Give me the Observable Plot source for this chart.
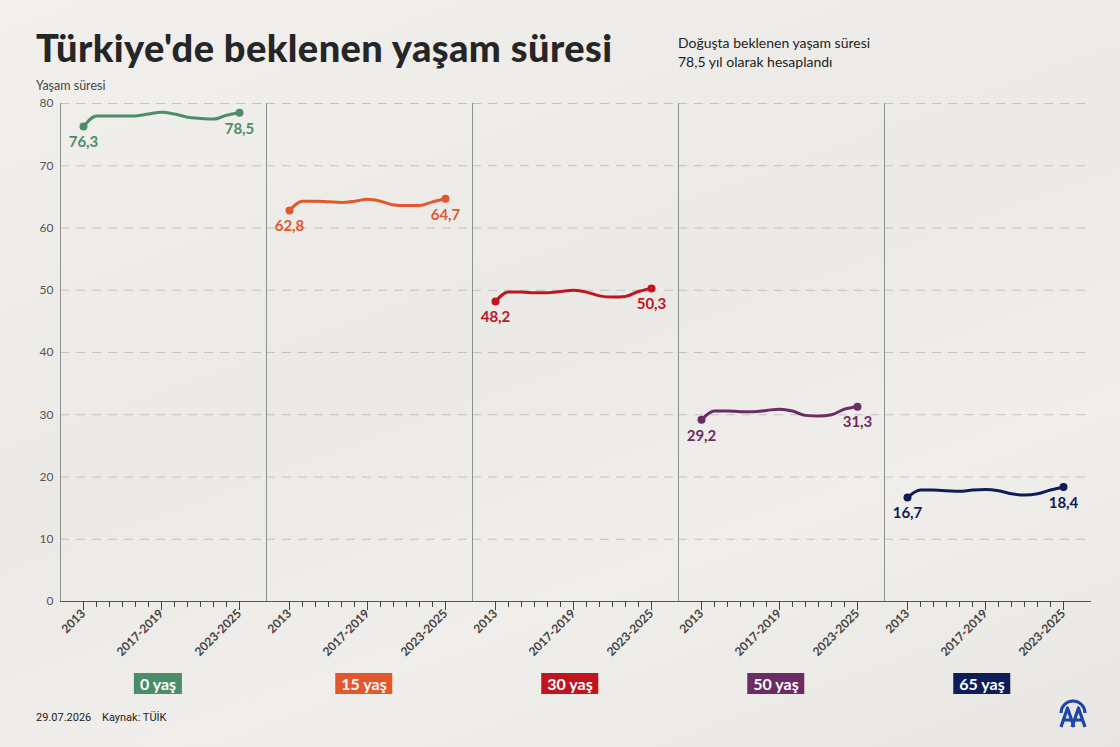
<!DOCTYPE html>
<html>
<head>
<meta charset="utf-8">
<script src="https://cdn.jsdelivr.net/npm/d3@7"></script>
<script src="https://cdn.jsdelivr.net/npm/@observablehq/plot@0.6"></script>
<style>
  html, body { margin: 0; padding: 0; }
  body {
    width: 1120px; height: 747px; position: relative; overflow: hidden;
    background: linear-gradient(160deg, #f2f0ed 0%, #ebe9e5 45%, #f0eeeb 70%, #e8e6e2 100%);
    font-family: Lato, "Noto Sans", sans-serif; color: #222;
  }
  .abs { position: absolute; }
  #title { left: 36px; top: 24px; font-size: 38px; font-weight: 900; color: #262626; letter-spacing: 0.4px; white-space: nowrap; }
  #subtitle { left: 678px; top: 33px; font-size: 14px; line-height: 19px; color: #222; }
  #ylabel { left: 36px; top: 78px; font-size: 12.5px; color: #444; }
  #chart { left: 0; top: 90px; }
  .age { position: absolute; top: 673px; height: 21px; line-height: 21px; padding: 0 6px; color: #fff; font-weight: 700; font-size: 16px; transform: translateX(-50%); white-space: nowrap; }
  #date { left: 36px; top: 711px; font-family: Roboto, sans-serif; font-size: 11px; color: #222; }
  #source { left: 102px; top: 711px; font-family: Roboto, sans-serif; font-size: 11px; color: #222; }
  #logo { left: 1055px; top: 696px; overflow: visible; }
</style>
</head>
<body>
<div id="title" class="abs">Türkiye'de beklenen yaşam süresi</div>
<div id="subtitle" class="abs">Doğuşta beklenen yaşam süresi<br>78,5 yıl olarak hesaplandı</div>
<div id="ylabel" class="abs">Yaşam süresi</div>
<div id="chart" class="abs"></div>
<div id="date" class="abs">29.07.2026</div>
<div id="source" class="abs">Kaynak: TÜİK</div>
<svg id="logo" class="abs" width="36" height="34" viewBox="0 0 36 34">
  <path d="M6 17 A12 12 0 0 1 30 17" fill="none" stroke="#1d44a8" stroke-width="3"/>
  <path d="M6 31 L12.5 12 L19 31 M9 24 L16 24 M17 31 L23.5 12 L30 31 M20 24 L27 24" fill="none" stroke="#1d44a8" stroke-width="3.2" stroke-linejoin="round"/>
</svg>
<script>
// ---- data ----
const periods = ["2013", "2014", "2013-2015", "2014-2016", "2015-2017", "2016-2018", "2017-2019",
                 "2018-2020", "2019-2021", "2020-2022", "2021-2023", "2022-2024", "2023-2025"];
const labeledPeriods = ["2013", "2017-2019", "2023-2025"];
const ages = ["0 yaş", "15 yaş", "30 yaş", "50 yaş", "65 yaş"];
const colors = ["#4d8c68", "#e2582c", "#c0141f", "#6b2b64", "#0e1d58"];
const age0  = [76.3, 78.0, 78.0, 78.0, 78.0, 78.3, 78.6, 78.3, 77.8, 77.6, 77.5, 78.1, 78.5];
const age15 = [62.8, 64.3, 64.3, 64.2, 64.1, 64.3, 64.6, 64.3, 63.7, 63.6, 63.6, 64.2, 64.7];
const age30 = [48.2, 49.7, 49.7, 49.6, 49.6, 49.8, 50.0, 49.7, 49.1, 48.9, 49.0, 49.8, 50.3];
const age50 = [29.2, 30.6, 30.6, 30.5, 30.5, 30.7, 30.9, 30.6, 29.9, 29.8, 30.0, 30.9, 31.3];
const age65 = [16.7, 17.9, 17.9, 17.8, 17.7, 17.9, 18.0, 17.8, 17.3, 17.1, 17.3, 17.9, 18.4];
const yTicks = [0, 10, 20, 30, 40, 50, 60, 70, 80];

const series = [age0, age15, age30, age50, age65];
const rows = ages.flatMap((a, i) => series[i].map((v, j) => ({age: a, period: periods[j], value: v})));
const ends = rows.filter(d => d.period === periods[0] || d.period === periods[periods.length - 1]);
const fmt = v => v.toFixed(1).replace(".", ",");

const plot = Plot.plot({
  width: 1120,
  height: 580,
  marginLeft: 58,
  marginRight: 28,
  marginTop: 13,
  marginBottom: 69,
  style: {background: "transparent", fontFamily: "Lato, sans-serif", overflow: "visible"},
  fx: {domain: ages, padding: 0, axis: null},
  x: {type: "point", domain: periods, padding: 0, insetLeft: 19, insetRight: 23},
  y: {domain: [0, 80]},
  color: {domain: ages, range: colors},
  marks: [
    Plot.ruleY(yTicks.filter(t => t > 0), {y: d => d, stroke: "#c4c1bc", strokeDasharray: "9,7", strokeWidth: 1}),
    Plot.frame({anchor: "left", stroke: "#8f8f8f", strokeWidth: 1}),
    Plot.frame({anchor: "bottom", stroke: "#555", strokeWidth: 1}),
    Plot.axisY({ticks: yTicks, tickSize: 0, tickPadding: 7, fontSize: 12, color: "#555", label: null}),
    Plot.axisX({tickSize: 6, tickRotate: -45, tickPadding: 4, fontSize: 12, fontWeight: 700, color: "#444",
                tickFormat: d => labeledPeriods.includes(d) ? d : "", label: null}),
    Plot.axisX({ticks: labeledPeriods, tickSize: 9, tickFormat: () => "", color: "#444", label: null}),
    Plot.line(rows, {x: "period", y: "value", fx: "age", stroke: "age", strokeWidth: 3, curve: "monotone-x"}),
    Plot.dot(ends, {x: "period", y: "value", fx: "age", fill: "age", r: 4}),
    Plot.text(ends, {x: "period", y: "value", fx: "age", text: d => fmt(d.value), dy: 16,
                     fill: "age", fontWeight: "bold", fontSize: 15})
  ]
});
document.getElementById("chart").appendChild(plot);

// facet labels below each panel
const fx = plot.scale("fx");
ages.forEach((a, i) => {
  const el = document.createElement("div");
  el.className = "age";
  el.textContent = a;
  el.style.background = colors[i];
  el.style.left = (fx.apply(a) + fx.bandwidth / 2 - 5) + "px";
  document.body.appendChild(el);
});
</script>
</body>
</html>
